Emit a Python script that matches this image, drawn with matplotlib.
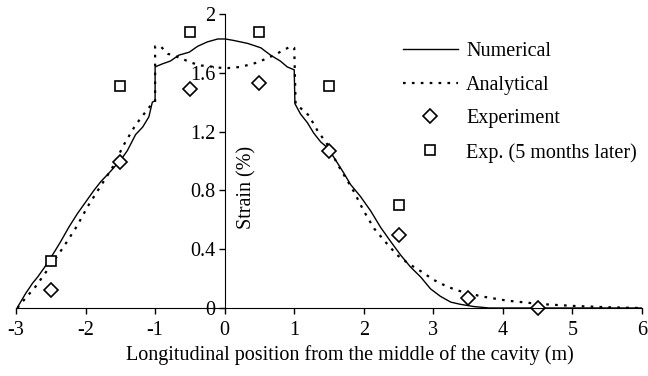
import matplotlib
matplotlib.use("Agg")
import matplotlib.pyplot as plt

# Numerical curve (solid)
num_x = [-2.98, -2.96, -2.86, -2.76, -2.69, -2.57, -2.45, -2.36, -2.24, -2.12, -2.0,
         -1.88, -1.78, -1.64, -1.49, -1.40, -1.28, -1.18, -1.09, -1.04, -1.0, -1.0,
         -0.90, -0.78, -0.66, -0.51, -0.39, -0.25, -0.10, 0.01, 0.13, 0.33, 0.52,
         0.66, 0.80, 0.90, 1.0, 1.01, 1.09, 1.19, 1.28, 1.38, 1.48, 1.59, 1.71,
         1.81, 1.95, 2.10, 2.24, 2.39, 2.53, 2.67, 2.82, 2.96, 3.10, 3.25, 3.39,
         3.58, 3.8, 6.0]
num_y = [0.0, 0.02, 0.10, 0.17, 0.21, 0.29, 0.38, 0.45, 0.55, 0.64, 0.72,
         0.80, 0.86, 0.93, 1.01, 1.07, 1.18, 1.23, 1.30, 1.40, 1.41, 1.64,
         1.66, 1.68, 1.72, 1.74, 1.78, 1.81, 1.83, 1.83, 1.82, 1.80, 1.77,
         1.72, 1.68, 1.64, 1.62, 1.39, 1.32, 1.26, 1.19, 1.13, 1.09, 1.01, 0.92,
         0.84, 0.76, 0.66, 0.55, 0.45, 0.36, 0.28, 0.21, 0.13, 0.08, 0.04, 0.025,
         0.01, 0.0, 0.0]

# Analytical curve (dotted)
ana_x = [-2.98, -2.93, -2.72, -2.50, -2.31, -2.12, -1.97, -1.85, -1.62, -1.45, -1.30,
         -1.21, -1.06, -1.0, -1.0, -0.92, -0.82, -0.63, -0.49, -0.34, -0.15, 0.0,
         0.23, 0.47, 0.71, 0.95, 1.0, 1.02, 1.21, 1.33, 1.48, 1.62, 1.86, 2.0,
         2.15, 2.31, 2.48, 2.65, 2.82, 3.01, 3.18, 3.34, 3.68, 4.06, 4.54, 5.02,
         5.5, 5.98]
ana_y = [0.0, 0.03, 0.145, 0.29, 0.42, 0.56, 0.69, 0.78, 0.95, 1.11, 1.23,
         1.29, 1.38, 1.40, 1.78, 1.78, 1.73, 1.70, 1.67, 1.65, 1.64, 1.63,
         1.64, 1.67, 1.72, 1.78, 1.77, 1.39, 1.31, 1.21, 1.11, 0.98, 0.79, 0.66,
         0.54, 0.45, 0.36, 0.30, 0.25, 0.19, 0.15, 0.12, 0.08, 0.05, 0.027, 0.014,
         0.005, 0.0]

# Measurements
exp_x = [-2.5, -1.5, -0.5, 0.5, 1.5, 2.5, 3.5, 4.5]
exp_y = [0.12, 0.99, 1.49, 1.53, 1.07, 0.50, 0.066, 0.0]
exp5_x = [-2.5, -1.5, -0.5, 0.5, 1.5, 2.5]
exp5_y = [0.32, 1.51, 1.88, 1.88, 1.51, 0.70]

x_ticks = [-3, -2, -1, 0, 1, 2, 3, 4, 5, 6]
y_ticks = [0, 0.4, 0.8, 1.2, 1.6, 2]
y_ticklabels = ['0', '0.4', '0.8', '1.2', '1.6', '2']

plt.rcParams['font.family'] = ['Liberation Serif', 'DejaVu Serif']
plt.rcParams['axes.unicode_minus'] = False
fs = 14.5

fig = plt.figure(figsize=(6.48, 3.76), dpi=100)
ax = fig.add_axes([16/648, 1 - 308/376, 626/648, 294/376])

ax.plot(num_x, num_y, color='black', lw=1.0, label='Numerical')
ax.plot(ana_x, ana_y, color='black', lw=1.6, linestyle=(0, (1.2, 2.8)), label='Analytical')
ax.plot(exp_x, exp_y, linestyle='none', marker='D', markersize=7.5, markerfacecolor='white',
        markeredgecolor='black', markeredgewidth=1.2, label='Experiment', clip_on=False)
ax.plot(exp5_x, exp5_y, linestyle='none', marker='s', markersize=6.5, markerfacecolor='white',
        markeredgecolor='black', markeredgewidth=1.2, label='Exp. (5 months later)')

ax.set_xlim(-3, 6)
ax.set_ylim(0, 2)
ax.spines['left'].set_position(('data', 0))
ax.spines['right'].set_visible(False)
ax.spines['top'].set_visible(False)
ax.set_xticks(x_ticks)
ax.set_yticks(y_ticks)
ax.set_yticklabels(y_ticklabels)
ax.tick_params(direction='out', length=4.5, width=1, labelsize=fs)
ax.tick_params(axis='x', pad=5)
ax.tick_params(axis='y', pad=2)

ax.set_xlabel('Longitudinal position from the middle of the cavity (m)', fontsize=fs)
ax.xaxis.set_label_coords(0.534, -0.125)
ax.set_ylabel('Strain (%)', fontsize=fs)
ax.yaxis.set_label_coords(0.384, 0.41)

ax.legend(loc='upper left', bbox_to_anchor=(403/648, 1 - 42/376), bbox_transform=fig.transFigure,
          frameon=False, handlelength=2.73, handletextpad=0.4, labelspacing=0.72,
          borderpad=0, borderaxespad=0, fontsize=fs)

fig.savefig('out.png', dpi=100)
